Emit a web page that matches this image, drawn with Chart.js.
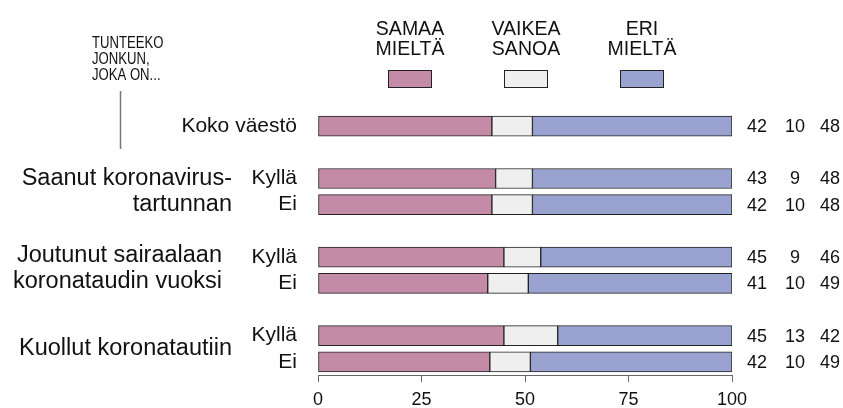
<!DOCTYPE html>
<html>
<head>
<meta charset="utf-8">
<script src="https://cdn.jsdelivr.net/npm/chart.js@4"></script>
<style>
  body { margin: 0; background: #fff; }
  #wrap { width: 843px; height: 408px; }
</style>
</head>
<body>
<div id="wrap"><canvas id="chart" width="843" height="408"></canvas></div>
<script>
// rows, empty strings are the gaps between groups
let rows = ['Koko väestö', '', 'Kyllä', 'Ei', '', 'Kyllä', 'Ei', '', 'Kyllä', 'Ei'];

// bar lengths (%)
let samaa  = [42.0, null, 42.9, 42.0, null, 44.9, 41.0, null, 44.9, 41.5];
let vaikea = [9.8,  null, 8.9,  9.8,  null, 8.9,  9.8,  null, 13.0, 9.8];
let eri    = [48.2, null, 48.2, 48.2, null, 46.2, 49.2, null, 42.1, 48.7];

// numbers printed right of the bars
let numSamaa  = ['42', '', '43', '42', '', '45', '41', '', '45', '42'];
let numVaikea = ['10', '', '9',  '10', '', '9',  '10', '', '13', '10'];
let numEri    = ['48', '', '48', '48', '', '46', '49', '', '42', '49'];

let legendLabels = [['SAMAA', 'MIELTÄ'], ['VAIKEA', 'SANOA'], ['ERI', 'MIELTÄ']];
let xTicks = [0, 25, 50, 75, 100];

let colors = ['#c48ba6', '#eeefee', '#9aa3d0'];
let font = "'Liberation Sans', Arial, sans-serif";

// group titles on the left: lines and the row they sit beside
let groups = [
    { lines: ['Saanut koronavirus-', 'tartunnan'], ys: [179, 205], x: 232 },
    { lines: ['Joutunut sairaalaan', 'koronataudin vuoksi'], ys: [256, 282], x: 222 },
    { lines: ['Kuollut koronatautiin'], ys: [349], x: 232 }
];

const extras = {
    id: 'extras',
    afterDraw(chart) {
        const ctx = chart.ctx;
        const area = chart.chartArea;
        const yScale = chart.scales.y;
        ctx.save();
        ctx.fillStyle = '#111';
        ctx.textBaseline = 'middle';

        // numbers on the right
        ctx.font = '18px ' + font;
        ctx.textAlign = 'center';
        const cols = [numSamaa, numVaikea, numEri];
        const offs = [25, 63, 98];
        for (let i = 0; i < rows.length; i++) {
            if (rows[i] === '') continue;
            const y = yScale.getPixelForValue(i) + 1;
            for (let c = 0; c < 3; c++) {
                ctx.fillText(cols[c][i], area.right + offs[c], y);
            }
        }

        // group titles
        ctx.font = '23.5px ' + font;
        ctx.textAlign = 'right';
        groups.forEach(function(g) {
            g.lines.forEach(function(t, k) {
                ctx.fillText(t, g.x, g.ys[k]);
            });
        });

        // legend
        const centers = [410, 526, 642];
        ctx.font = '19.5px ' + font;
        ctx.textAlign = 'center';
        for (let i = 0; i < 3; i++) {
            ctx.fillStyle = '#111';
            ctx.fillText(legendLabels[i][0], centers[i], 30);
            ctx.fillText(legendLabels[i][1], centers[i], 50);
            ctx.fillStyle = colors[i];
            ctx.fillRect(centers[i] - 22, 70.5, 44, 17);
            ctx.strokeStyle = '#222';
            ctx.lineWidth = 1;
            ctx.strokeRect(centers[i] - 22 + 0.5, 70.5, 43, 17);
        }

        // small heading, narrow type
        ctx.fillStyle = '#111';
        ctx.textAlign = 'left';
        ctx.font = '16px ' + font;
        const head = ['TUNTEEKO', 'JONKUN,', 'JOKA ON...'];
        for (let k = 0; k < head.length; k++) {
            ctx.save();
            ctx.translate(92, 44 + k * 15.6);
            ctx.scale(0.82, 1);
            ctx.fillText(head[k], 0, 0);
            ctx.restore();
        }
        ctx.strokeStyle = '#777';
        ctx.lineWidth = 1.5;
        ctx.beginPath();
        ctx.moveTo(120.5, 91);
        ctx.lineTo(120.5, 149);
        ctx.stroke();
        ctx.restore();
    }
};

function makeSet(label, data, color) {
    return {
        label: label,
        data: data,
        backgroundColor: color,
        borderColor: '#222',
        borderWidth: 1,
        borderSkipped: false,
        barThickness: 20
    };
}

var chart = new Chart(document.getElementById('chart'), {
    type: 'bar',
    data: {
        labels: rows,
        datasets: [
            makeSet('Samaa mieltä', samaa, colors[0]),
            makeSet('Vaikea sanoa', vaikea, colors[1]),
            makeSet('Eri mieltä', eri, colors[2])
        ]
    },
    options: {
        indexAxis: 'y',
        responsive: false,
        animation: false,
        layout: { padding: { left: 0, right: 111, top: 113, bottom: 0 } },
        plugins: {
            legend: { display: false },
            tooltip: { enabled: false }
        },
        scales: {
            x: {
                stacked: true,
                min: 0,
                max: 100,
                afterBuildTicks: function(axis) {
                    axis.ticks = xTicks.map(function(v) { return { value: v }; });
                },
                afterFit: function(axis) { axis.height = 33; },
                grid: { drawOnChartArea: false, drawTicks: true, tickLength: 7, color: '#666' },
                border: { display: true, color: '#666', width: 1 },
                ticks: { color: '#111', padding: 7, font: { family: font, size: 18 } }
            },
            y: {
                stacked: true,
                afterFit: function(axis) { axis.width = 318; },
                grid: { display: false },
                border: { display: false },
                ticks: { color: '#111', padding: 13, autoSkip: false, font: { family: font, size: 21 } }
            }
        }
    },
    plugins: [extras]
});
</script>
</body>
</html>
